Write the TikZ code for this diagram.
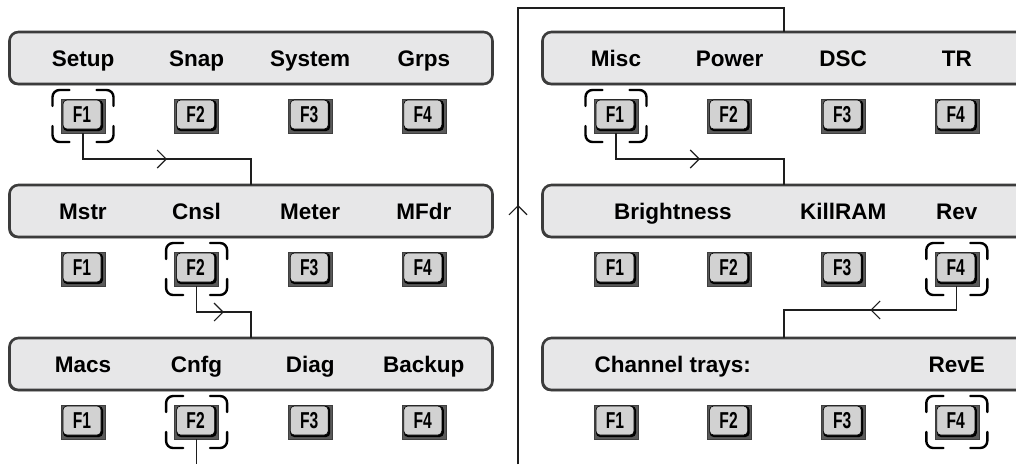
\documentclass[tikz,border=0pt]{standalone}
\usepackage{fontspec}
\setmainfont{Liberation Sans}
\newfontfamily\keyfont[FakeStretch=0.68]{Liberation Sans}
\usepackage{tikz}
\usetikzlibrary{arrows.meta,calc,shadows}
\definecolor{PANELfill}{HTML}{E7E7E8}
\definecolor{PANELedge}{HTML}{3C3C3C}
\definecolor{KEYbase}{HTML}{5A5A5A}
\definecolor{KEYface}{HTML}{D2D2D2}
\definecolor{WIRE}{HTML}{1E1E1E}

% one function key: name, x, y, label
\newcommand{\fkey}[4]{%
  \node[keybase] (#1) at (#2,#3) {};
  \fill[black, rounded corners=4pt] ($(#1.north west)+(2,1)$) rectangle ($(#1.south east)+(-2,-2)$);
  \draw[fill=KEYface, line width=0.6pt, rounded corners=4pt] ($(#1.north west)+(2,1)$) rectangle ($(#1.south east)+(-4,-4)$);
  \node[keylabel] at ($(#1)+(-1,-1.5)$) {#4};
}
% corner brackets round a selected key
\newcommand{\selmark}[1]{%
  \foreach \sx/\sy in {-1/-1,1/-1,1/1,-1/1}{
    \draw[selbracket] ($(#1)+({\sx*30.5},{\sy*10})$) -- ($(#1)+({\sx*30.5},{\sy*26})$) -- ($(#1)+({\sx*13.5},{\sy*26})$);
  }
}

\begin{document}
\begin{tikzpicture}[x=1pt, y=-1pt,
    panel/.style={draw=PANELedge, line width=2.6pt, fill=PANELfill, rounded corners=9pt,
      minimum width=483pt, minimum height=52pt, inner sep=0pt, outer sep=0pt,
      general shadow={fill=PANELedge, shadow xshift=-1.2pt, shadow yshift=-1.2pt}},
    keybase/.style={draw=KEYbase!70!black, line width=0.5pt, fill=KEYbase,
      minimum width=44pt, minimum height=34pt, inner sep=0pt, outer sep=0pt},
    keylabel/.style={font=\keyfont\bfseries\fontsize{23}{26}\selectfont, inner sep=0pt},
    softlabel/.style={font=\bfseries\fontsize{22.5}{26}\selectfont, anchor=base, inner sep=0pt},
    selbracket/.style={line width=2.4pt, rounded corners=7pt, line cap=round},
    wire/.style={draw=WIRE, line width=1.1pt},
    tip/.style={-{Straight Barb[length=9pt, width=18pt, line width=1.1pt]}}]
  \useasboundingbox (0,0) rectangle (1016,464);

  % panels
  \foreach \col/\cx in {L/251, R/784}
    \foreach \row/\cy in {1/58, 2/211, 3/364}
      \node[panel] (p\col\row) at (\cx,\cy) {};

  % function keys
  \foreach \col/\kx in {L/83, R/616}
    \foreach \row/\ky in {1/116, 2/269, 3/422}
      \foreach \i in {1,...,4}{
        \pgfmathsetmacro{\fx}{\kx+(\i-1)*113.6}
        \fkey{k\col\row\i}{\fx}{\ky}{F\i}
      }

  % soft key texts
  \foreach \txt/\slot in {Setup/0, Snap/1, System/2, Grps/3}
    \node[softlabel] (tL1\slot) at ({83+\slot*113.6},66) {\txt};
  \foreach \txt/\slot in {Mstr/0, Cnsl/1, Meter/2, MFdr/3}
    \node[softlabel] (tL2\slot) at ({83+\slot*113.6},219) {\txt};
  \foreach \txt/\slot in {Macs/0, Cnfg/1, Diag/2, Backup/3}
    \node[softlabel] (tL3\slot) at ({83+\slot*113.6},372) {\txt};
  \foreach \txt/\slot in {Misc/0, Power/1, DSC/2, TR/3}
    \node[softlabel] (tR1\slot) at ({616+\slot*113.6},66) {\txt};
  \foreach \txt/\slot in {Brightness/0.5, KillRAM/2, Rev/3}
    \node[softlabel] at ({616+\slot*113.6},219) {\txt};
  \foreach \txt/\slot in {Channel trays:/0.5, RevE/3}
    \node[softlabel] at ({616+\slot*113.6},372) {\txt};

  % selected keys
  \selmark{kL11}
  \selmark{kL22}
  \selmark{kL32}
  \selmark{kR11}
  \selmark{kR24}
  \selmark{kR34}

  % menu paths
  \draw[wire] (kL11.south) -- ++(0,26) coordinate (bL1) -| (pL2.north);
  \draw[wire, tip] (bL1) -- ($(bL1)!0.5!(bL1 -| pL2.north)$);
  \draw[wire] (kL22.south) -- ++(0,26) coordinate (bL2) -| (pL3.north);
  \draw[wire, tip] (bL2) -- ($(bL2)!0.5!(bL2 -| pL3.north)$);
  \coordinate (outL) at (197,464);
  \draw[wire] (kL32.south) -- (kL32.south |- outL);

  \coordinate (retB) at (518,464);
  \coordinate (retT) at (518,8);
  \draw[wire] (retB) -- (retT) -| (pR1.north);
  \draw[wire, tip] (retB) -- ($(retB)!0.568!(retT)$);

  \draw[wire] (kR11.south) -- ++(0,26) coordinate (bR1) -| (pR2.north);
  \draw[wire, tip] (bR1) -- ($(bR1)!0.5!(bR1 -| pR2.north)$);
  \draw[wire] (kR24.south) -- ++(0,24) coordinate (bR2) -| (pR3.north);
  \draw[wire, tip] (bR2) -- ($(bR2)!0.5!(bR2 -| pR3.north)$);
\end{tikzpicture}
\end{document}
